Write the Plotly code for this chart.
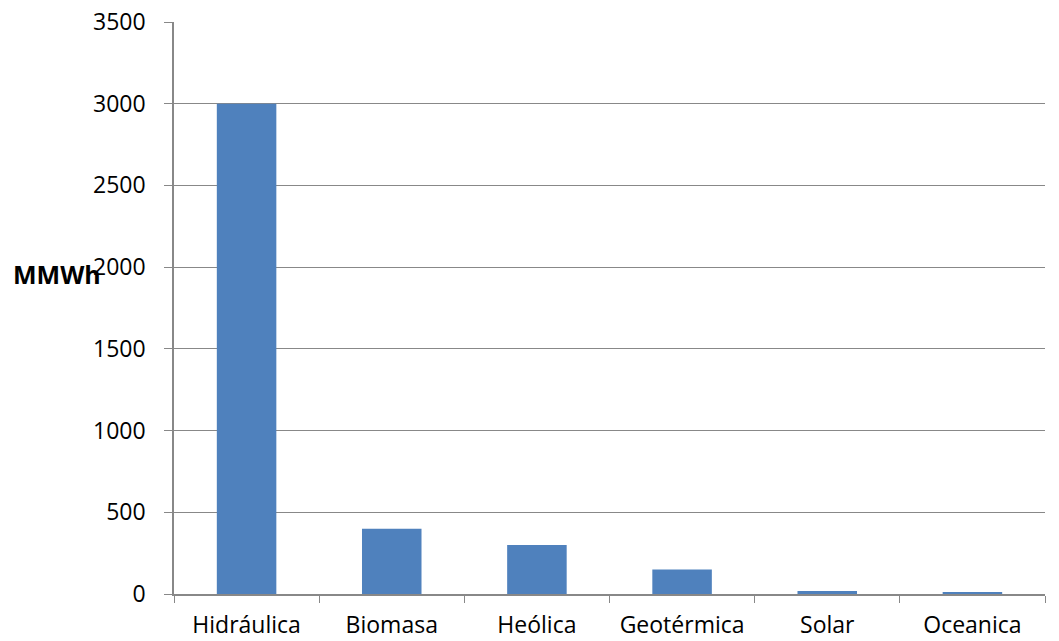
import plotly.graph_objects as go

categories = ["Hidráulica", "Biomasa", "Heólica", "Geotérmica", "Solar", "Oceanica"]
values = [3000, 400, 300, 150, 18, 8]
y_ticks = [0, 500, 1000, 1500, 2000, 2500, 3000, 3500]

FONT_FAMILY = "Open Sans, Liberation Sans, sans-serif"
font = dict(family=FONT_FAMILY, size=23, color="#000000")

fig = go.Figure()
fig.add_trace(go.Bar(x=categories, y=values, marker=dict(color="#4F81BD", line=dict(width=0))))

fig.update_layout(
    width=1059, height=641,
    margin=dict(l=174, r=14, t=22, b=47),
    paper_bgcolor="white", plot_bgcolor="white",
    bargap=0.59, showlegend=False, font=font,
)
fig.update_xaxes(
    showline=True, linecolor="#888888", linewidth=1.5,
    ticks="outside", ticklen=7, tickcolor="#888888", tickson="boundaries",
    showgrid=False, tickfont=font, automargin=False, ticklabelstandoff=10,
)
fig.update_yaxes(
    range=[0, 3500], tickvals=y_ticks, showgrid=True, gridcolor="#888888", gridwidth=1,
    showline=True, linecolor="#888888", linewidth=1.5,
    ticks="outside", ticklen=8, tickcolor="#888888", tickfont=font, zeroline=False,
    automargin=False, ticklabelstandoff=14,
)
fig.add_annotation(
    text="<b>MMWh</b>", xref="paper", yref="paper", x=-174/871 + 11/871, y=0.5586,
    xanchor="left", yanchor="middle", showarrow=False,
    font=dict(family=FONT_FAMILY, size=25, color="#000000"),
)
fig.write_html("out.html")
